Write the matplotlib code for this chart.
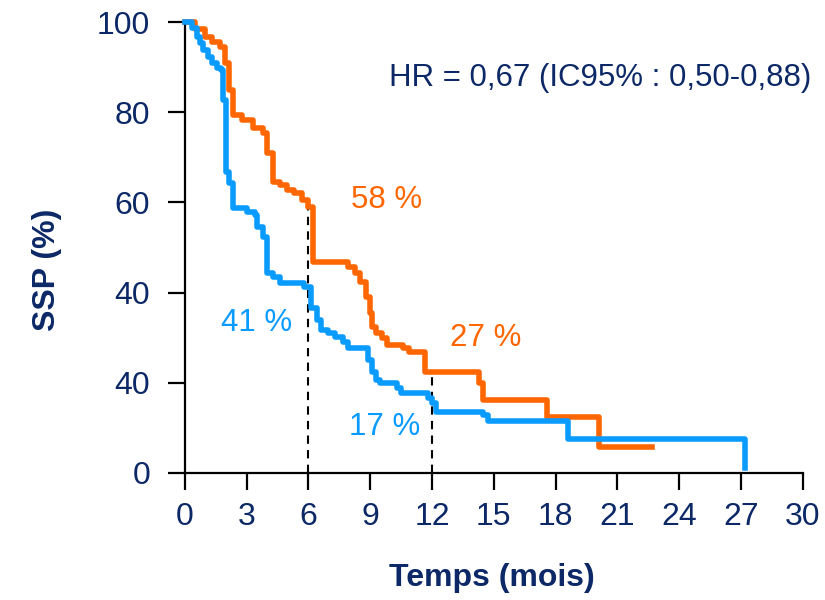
import numpy as np
import matplotlib
matplotlib.use("Agg")
from matplotlib import pyplot as plt

plt.rcParams['font.family'] = ['Liberation Sans', 'DejaVu Sans']

# orange arm (step points, months / SSP %)
t_orange = [0, 0.5, 1.0, 1.3, 1.7, 1.95, 2.15, 2.35, 2.8, 3.3, 3.8, 4.0, 4.3, 4.6, 4.95,
            5.3, 5.7, 6.0, 6.2, 7.9, 8.25, 8.5, 8.8, 9.0, 9.1, 9.3, 9.55, 9.8, 10.6,
            10.9, 11.65, 14.3, 14.5, 17.6, 20.1, 22.7]
s_orange = [100, 98.4, 96.7, 95.6, 94.5, 90.9, 84.9, 79.4, 78.3, 76.5, 75.4, 71.0, 64.5,
            63.9, 62.7, 62.1, 60.5, 59.0, 46.7, 45.7, 44.3, 42.4, 39.0, 35.5, 32.4, 31.0,
            29.9, 28.4, 27.7, 26.8, 22.4, 20.0, 16.2, 12.4, 5.8, 5.8]

# blue arm
t_blue = [0, 0.33, 0.57, 0.73, 0.89, 1.13, 1.3, 1.54, 1.78, 1.86, 2.02, 2.15, 2.35, 3.0,
          3.4, 3.5, 3.8, 4.0, 4.3, 4.6, 5.8, 6.15, 6.4, 6.63, 6.95, 7.28, 7.68, 7.9, 8.9,
          9.1, 9.3, 9.5, 10.3, 10.5, 11.8, 12.0, 12.2, 14.5, 14.7, 18.6, 27.2]
s_blue = [100, 98.7, 96.7, 95.3, 93.8, 92.2, 90.9, 89.8, 89.4, 82.7, 66.7, 64.3, 58.8,
          57.9, 57.2, 54.5, 52.3, 44.3, 43.5, 42.1, 41.2, 36.6, 33.9, 31.7, 31.0, 30.2,
          29.0, 27.7, 25.0, 22.4, 20.6, 20.0, 18.8, 17.7, 16.6, 15.5, 13.5, 12.9, 11.5,
          7.5, 1.1]

x_ticks = [0, 3, 6, 9, 12, 15, 18, 21, 24, 27, 30]
y_ticks = [0, 20, 40, 60, 80, 100]
y_tick_labels = ['0', '40', '40', '60', '80', '100']
ref_times = [6, 12]

navy = '#0c2866'
orange = '#ff6600'
blue = '#0a9bff'

fig = plt.figure(figsize=(8.25, 6), dpi=100)
ax = fig.add_axes([0.224, 0.212, 0.749, 0.751])

# dashed reference lines down from the orange curve
for t in ref_times:
    idx = np.searchsorted(t_orange, t, side='right') - 1
    ax.vlines(t, 0, s_orange[idx], colors='black', linestyles=(0, (4, 3)), lw=1.5, zorder=1)

ax.step(t_blue, s_blue, where='post', color=blue, lw=4, clip_on=False, zorder=3)
ax.step(t_orange, s_orange, where='post', color=orange, lw=4, clip_on=False, zorder=2)

ax.set_xlim(0, 30)
ax.set_ylim(0, 100)
ax.set_xticks(x_ticks)
ax.set_yticks(y_ticks)
ax.set_yticklabels(y_tick_labels)

for side in ['top', 'right']:
    ax.spines[side].set_visible(False)
for side in ['left', 'bottom']:
    ax.spines[side].set_linewidth(1.6)
ax.tick_params(axis='both', direction='out', length=12, width=1.6, labelsize=23,
               colors='black')
ax.tick_params(axis='x', pad=9)
ax.tick_params(axis='y', pad=13)
for lab in ax.get_xticklabels() + ax.get_yticklabels():
    lab.set_color(navy)

ax.set_xlabel('Temps (mois)', fontsize=23, fontweight='bold', color=navy, va='center')
ax.xaxis.set_label_coords(0.497, -0.233)
ax.set_ylabel('SSP (%)', fontsize=23, fontweight='bold', color=navy, va='center')
ax.yaxis.set_label_coords(-0.223, 0.45)

ax.text(30.4, 87.6, 'HR = 0,67 (IC95% : 0,50-0,88)', fontsize=22.5, color=navy,
        ha='right', va='center')
ax.text(9.8, 60.5, '58 %', fontsize=22.5, color=orange, ha='center', va='center')
ax.text(3.5, 33.3, '41 %', fontsize=22.5, color=blue, ha='center', va='center')
ax.text(14.6, 29.9, '27 %', fontsize=22.5, color=orange, ha='center', va='center')
ax.text(9.7, 10.2, '17 %', fontsize=22.5, color=blue, ha='center', va='center')

fig.savefig('out.png', dpi=100)
